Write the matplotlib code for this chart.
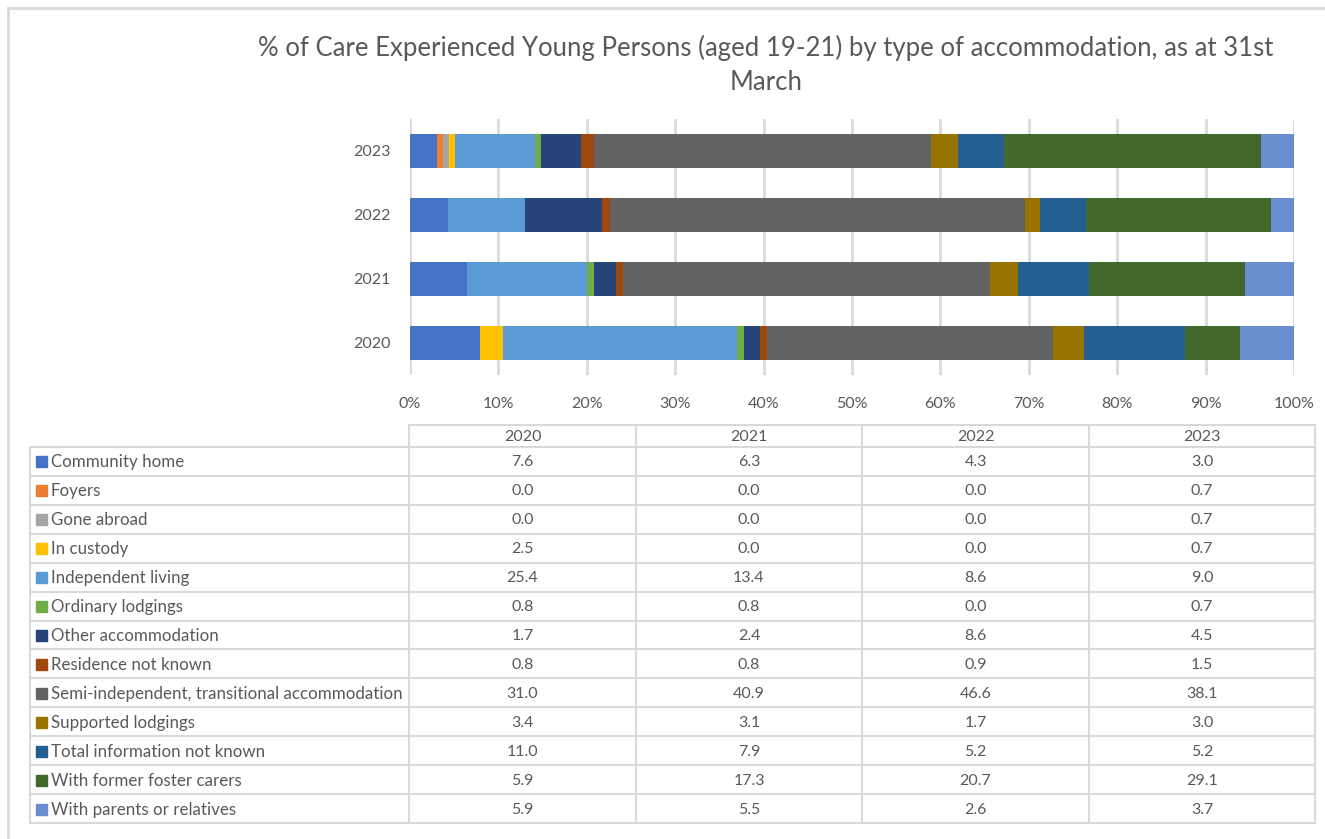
import matplotlib.pyplot as plt
from matplotlib.patches import Rectangle
import numpy as np

plt.rcParams['font.family'] = ['Lato', 'DejaVu Sans']

#%% data: % of young persons by accommodation type, as at 31st March
years = ['2020', '2021', '2022', '2023']

categories = ['Community home', 'Foyers', 'Gone abroad', 'In custody',
              'Independent living', 'Ordinary lodgings', 'Other accommodation',
              'Residence not known', 'Semi-independent, transitional accommodation',
              'Supported lodgings', 'Total information not known',
              'With former foster carers', 'With parents or relatives']

community_home = [7.6, 6.3, 4.3, 3.0]
foyers = [0.0, 0.0, 0.0, 0.7]
gone_abroad = [0.0, 0.0, 0.0, 0.7]
in_custody = [2.5, 0.0, 0.0, 0.7]
independent_living = [25.4, 13.4, 8.6, 9.0]
ordinary_lodgings = [0.8, 0.8, 0.0, 0.7]
other_accommodation = [1.7, 2.4, 8.6, 4.5]
residence_not_known = [0.8, 0.8, 0.9, 1.5]
semi_independent = [31.0, 40.9, 46.6, 38.1]
supported_lodgings = [3.4, 3.1, 1.7, 3.0]
total_not_known = [11.0, 7.9, 5.2, 5.2]
former_foster = [5.9, 17.3, 20.7, 29.1]
parents_relatives = [5.9, 5.5, 2.6, 3.7]

colors = ['#4472C4', '#ED7D31', '#A5A5A5', '#FFC000', '#5B9BD5', '#70AD47',
          '#264478', '#9E480E', '#636363', '#997300', '#255E91', '#43682B',
          '#698ED0']

values = np.array([community_home, foyers, gone_abroad, in_custody,
                   independent_living, ordinary_lodgings, other_accommodation,
                   residence_not_known, semi_independent, supported_lodgings,
                   total_not_known, former_foster, parents_relatives])

txt = '#595959'
grid = '#D9D9D9'
W, H = 1325, 839

fig = plt.figure(figsize=(W / 100, H / 100), dpi=100)

# background layer in pixel coords (frame + data table)
bg = fig.add_axes([0, 0, 1, 1])
bg.set_xlim(0, W)
bg.set_ylim(H, 0)
bg.axis('off')

bg.plot([8, W], [8, 8], color=grid, lw=2)
bg.plot([8, 8], [8, H], color=grid, lw=2)

bg.text(766, 48, '% of Care Experienced Young Persons (aged 19-21) by type of accommodation, as at 31st',
        ha='center', va='center', fontsize=18.5, color=txt)
bg.text(766, 82, 'March', ha='center', va='center', fontsize=18.5, color=txt)

#%% 100% stacked bars
ax = fig.add_axes([410 / W, (H - 375) / H, (1294 - 410) / W, (375 - 119) / H])
pct = values / values.sum(axis=0) * 100
ypos = np.arange(len(years))
left = np.zeros(len(years))
for i in range(len(categories)):
    ax.barh(ypos, pct[i], left=left, height=0.52, color=colors[i], zorder=3)
    left += pct[i]

ax.set_xlim(0, 100)
ax.set_ylim(-0.5, len(years) - 0.5)
ax.set_xticks(np.arange(0, 101, 10))
ax.set_xticklabels([f'{t}%' for t in range(0, 101, 10)])
ax.set_yticks(ypos)
ax.set_yticklabels(years)
ax.tick_params(axis='both', length=0, labelsize=11.5, colors=txt)
ax.tick_params(axis='x', pad=16)
ax.tick_params(axis='y', pad=14)
ax.grid(axis='x', color=grid, lw=2, zorder=0)
for s in ax.spines.values():
    s.set_visible(False)

#%% data table under the chart
col_x = [409, 636, 862, 1089, 1315]
lab_x0 = 30
head_top, head_bot = 425, 447
row_h = (823 - head_bot) / len(categories)
lc = '#D9D9D9'

# header row
bg.plot([col_x[0], col_x[-1]], [head_top, head_top], color=lc, lw=1.5)
for j, yr in enumerate(years):
    bg.text((col_x[j] + col_x[j + 1]) / 2, (head_top + head_bot) / 2 + 1, yr,
            ha='center', va='center', fontsize=11.5, color=txt)
for x in col_x:
    bg.plot([x, x], [head_top, 823], color=lc, lw=1.5)
bg.plot([lab_x0, lab_x0], [head_bot, 823], color=lc, lw=1.5)

for i, cat in enumerate(categories):
    y0 = head_bot + i * row_h
    yc = y0 + row_h / 2 + 1
    bg.plot([lab_x0, col_x[-1]], [y0, y0], color=lc, lw=1.5)
    bg.add_patch(Rectangle((36, yc - 6), 11, 11, color=colors[i]))
    bg.text(51, yc, cat, ha='left', va='center', fontsize=12.2, color=txt)
    for j in range(len(years)):
        bg.text((col_x[j] + col_x[j + 1]) / 2, yc, f'{values[i, j]:.1f}',
                ha='center', va='center', fontsize=11.5, color=txt)
bg.plot([lab_x0, col_x[-1]], [823, 823], color=lc, lw=1.5)

fig.savefig('out.png', dpi=100)
